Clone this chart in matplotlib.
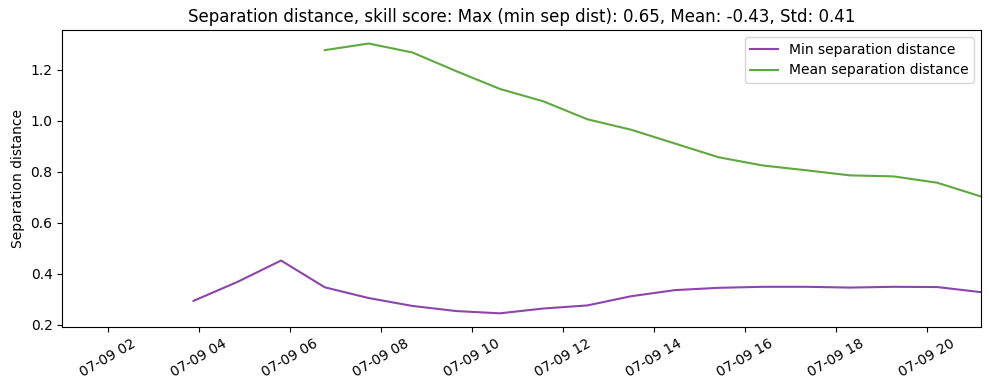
import numpy as np
import pandas as pd
import matplotlib
matplotlib.use("Agg")
import matplotlib.pyplot as plt
import matplotlib.dates as mdates

# hourly-ish samples starting 07-09 01:00
times = pd.date_range("2024-07-09 01:00", periods=22, freq="3462s")

min_sep = [np.nan, np.nan, np.nan, 0.294, 0.368, 0.452, 0.347, 0.305, 0.274, 0.254,
           0.245, 0.264, 0.276, 0.312, 0.336, 0.345, 0.349, 0.349, 0.346, 0.349,
           0.348, 0.328]
mean_sep = [np.nan, np.nan, np.nan, np.nan, np.nan, np.nan, 1.277, 1.303, 1.268, 1.195,
            1.125, 1.076, 1.006, 0.965, 0.911, 0.857, 0.825, 0.806, 0.786, 0.782,
            0.757, 0.703]

fig, ax = plt.subplots(figsize=(9.89, 3.9), dpi=100)
ax.plot(times, min_sep, color="#8e44ad", label="Min separation distance")
ax.plot(times, mean_sep, color="#5ea83f", label="Mean separation distance")

ax.set_xlim(times[0], times[-1])
ax.xaxis.set_major_locator(mdates.HourLocator(interval=2))
ax.xaxis.set_major_formatter(mdates.DateFormatter("%m-%d %H"))
plt.setp(ax.get_xticklabels(), rotation=30)

ax.set_ylabel("Separation distance")
ax.set_title("Separation distance, skill score: Max (min sep dist): 0.65, Mean: -0.43, Std: 0.41")
ax.legend(loc="upper right")

plt.subplots_adjust(left=0.063, right=0.992, top=0.923, bottom=0.162)
plt.savefig("out.png", dpi=100)
